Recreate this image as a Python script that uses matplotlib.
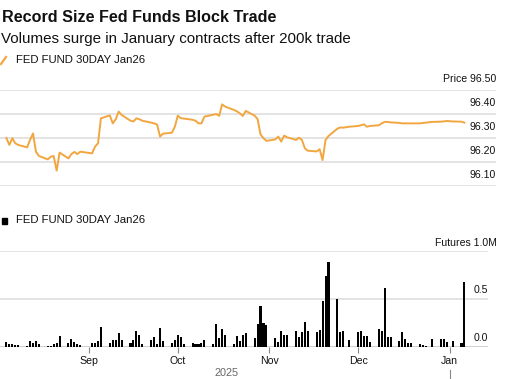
import pandas as pd
import numpy as np
from matplotlib import pyplot as plt
import matplotlib.dates as mdates
from matplotlib.lines import Line2D
from matplotlib.patches import Rectangle
import matplotlib.transforms as mtransforms

plt.rcParams['font.family'] = ['Liberation Sans', 'DejaVu Sans']

W, H = 507, 379

# business days shown in the chart
days = pd.bdate_range('2025-08-04', '2026-01-06')
holidays = pd.to_datetime(['2025-09-01', '2025-11-27', '2025-12-25', '2026-01-01'])
price_days = days[~days.isin(holidays)]

# settlement price, one per trading day (holidays skipped)
price = [96.300, 96.271, 96.299, 96.278, 96.271,
         96.261, 96.292, 96.319, 96.243, 96.225,
         96.211, 96.222, 96.225, 96.164, 96.239,
         96.215, 96.233, 96.242, 96.233, 96.243,
         96.236, 96.264, 96.278, 96.382,
         96.394, 96.361, 96.378, 96.410, 96.396,
         96.372, 96.369, 96.382, 96.378, 96.372,
         96.364, 96.361, 96.356, 96.306, 96.318,
         96.322, 96.347, 96.393, 96.383, 96.381,
         96.376, 96.372, 96.361, 96.361, 96.389,
         96.397, 96.400, 96.392, 96.440, 96.431,
         96.417, 96.411, 96.403, 96.392, 96.413,
         96.393, 96.379, 96.315, 96.299, 96.288,
         96.294, 96.306, 96.285, 96.310, 96.303,
         96.292, 96.301, 96.292, 96.257, 96.247,
         96.244, 96.253, 96.208, 96.292, 96.308,
         96.339, 96.344, 96.343, 96.347,
         96.350, 96.353, 96.357, 96.347, 96.350,
         96.353, 96.361, 96.367, 96.367, 96.365,
         96.363, 96.361, 96.361, 96.361, 96.361,
         96.361, 96.363, 96.364, 96.367,
         96.368, 96.369, 96.371, 96.369,
         96.368, 96.364]

# futures volume in millions, every business day
volume = [0.055, 0.030, 0.028, 0.025, 0.022,
          0.015, 0.058, 0.045, 0.058, 0.030,
          0.015, 0.015, 0.030, 0.045, 0.115,
          0.045, 0.080, 0.055, 0.030, 0.020,
          0.000, 0.045, 0.045, 0.060, 0.205,
          0.040, 0.070, 0.070, 0.150, 0.070,
          0.045, 0.070, 0.165, 0.130, 0.030,
          0.070, 0.100, 0.030, 0.195, 0.065,
          0.045, 0.070, 0.130, 0.100, 0.028,
          0.038, 0.033, 0.035, 0.038, 0.070,
          0.028, 0.243, 0.090, 0.185, 0.125,
          0.030, 0.115, 0.065, 0.125, 0.142,
          0.090, 0.236, 0.430, 0.254, 0.226,
          0.090, 0.055, 0.170, 0.128, 0.128,
          0.170, 0.100, 0.156, 0.257, 0.170,
          0.153, 0.174, 0.476, 0.736, 0.885,
          0.500, 0.160, 0.170, 0.000, 0.070,
          0.153, 0.163, 0.115, 0.115, 0.055,
          0.188, 0.163, 0.615, 0.108, 0.108,
          0.060, 0.153, 0.083, 0.038, 0.038,
          0.030, 0.020, 0.010, 0.000, 0.087,
          0.083, 0.083, 0.050, 0.003, 0.060,
          0.038, 0.680]

price_ticks = [96.10, 96.20, 96.30, 96.40, 96.50]
vol_ticks = [0.0, 0.5, 1.0]
month_ticks = pd.to_datetime(['2025-09-01', '2025-10-01', '2025-11-01', '2025-12-01', '2026-01-01'])
month_labels = ['Sep', 'Oct', 'Nov', 'Dec', 'Jan']

orange = '#F2A640'
grid = '#E3E3E3'
txt = '#111111'

fig = plt.figure(figsize=(W / 100, H / 100), dpi=100)


def box(x0, y0, x1, y1):
	return [x0 / W, 1 - y1 / H, (x1 - x0) / W, (y1 - y0) / H]


def lift(ax, px):
	# shift a text up by px pixels
	return mtransforms.offset_copy(ax.get_yaxis_transform(), fig=fig, y=px * 0.72, units='points')


# pixel -> date mapping shared by both panels
px_per_day = 2.955
d0 = mdates.date2num(pd.Timestamp('2025-08-04')) - 6.4 / px_per_day


def xlim_for(right_px):
	return d0, d0 + right_px / px_per_day


fig.text(2 / W, 1 - 17.5 / H, 'Record Size Fed Funds Block Trade', fontsize=11.6,
		 weight='bold', color=txt, va='center')
fig.text(1 / W, 1 - 38.5 / H, 'Volumes surge in January contracts after 200k trade',
		 fontsize=10.9, color=txt, va='center')

# legend markers
fig.add_artist(Line2D([1 / W, 6 / W], [1 - 64 / H, 1 - 57 / H], color=orange, lw=1.6))
fig.text(16 / W, 1 - 60 / H, 'FED FUND 30DAY Jan26', fontsize=8.2, color=txt, va='center')
fig.add_artist(Rectangle((2 / W, 1 - 224 / H), 5 / W, 6 / H, color='black'))
fig.text(16 / W, 1 - 220 / H, 'FED FUND 30DAY Jan26', fontsize=8.2, color=txt, va='center')

# price panel
ax1 = fig.add_axes(box(0, 90, 496, 186))
ax1.plot(price_days, price, color=orange, lw=1.4, solid_joinstyle='round')
ax1.set_ylim(96.10, 96.50)
ax1.set_xlim(*xlim_for(496))
for v in price_ticks:
	ax1.axhline(v, color=grid, lw=1.4, zorder=0)
	lab = '%.2f' % v
	if v == 96.50:
		lab = 'Price ' + lab
	ax1.text(1.0, v, lab, transform=lift(ax1, 10.5), ha='right', va='center',
			 fontsize=7.6, color=txt)
for s in ax1.spines.values():
	s.set_visible(False)
ax1.set_xticks([])
ax1.set_yticks([])

# volume panel
ax2 = fig.add_axes(box(0, 251, 488, 347))
ax2.bar(days, volume, width=0.7, color='black', align='center')
ax2.set_ylim(0, 1.0)
ax2.set_xlim(*xlim_for(488))
for v in vol_ticks:
	ax2.axhline(v, color=grid if v > 0 else '#D0D0D0', lw=1.4, zorder=0)
ax2.text(1.0, 0.5, '0.5', transform=lift(ax2, 9), ha='right', va='center', fontsize=7.6, color=txt)
ax2.text(1.0, 0.0, '0.0', transform=lift(ax2, 9), ha='right', va='center', fontsize=7.6, color=txt)
ax2.text(1.0 + 9 / 488, 1.0, 'Futures 1.0M', transform=lift(ax2, 8.5), ha='right',
		 va='center', fontsize=7.6, color=txt)
for s in ax2.spines.values():
	s.set_visible(False)
ax2.set_yticks([])
ax2.set_xticks(mdates.date2num(month_ticks))
ax2.set_xticklabels(month_labels)
ax2.tick_params(axis='x', length=4, width=0.8, color='#888888', labelsize=7.6,
				labelcolor=txt, pad=2.5)

# year label and year separator
ax2.text(227 / 488, -0.27, '2025', transform=ax2.transAxes, ha='center', va='center',
		 fontsize=7.8, color='#666666')
jan = mdates.date2num(pd.Timestamp('2026-01-01'))
bt = mtransforms.blended_transform_factory(ax2.transData, ax2.transAxes)
ax2.plot([jan, jan], [-0.24, -0.34], transform=bt, color='#888888', lw=0.8, clip_on=False)

fig.savefig('out.png', dpi=100)
